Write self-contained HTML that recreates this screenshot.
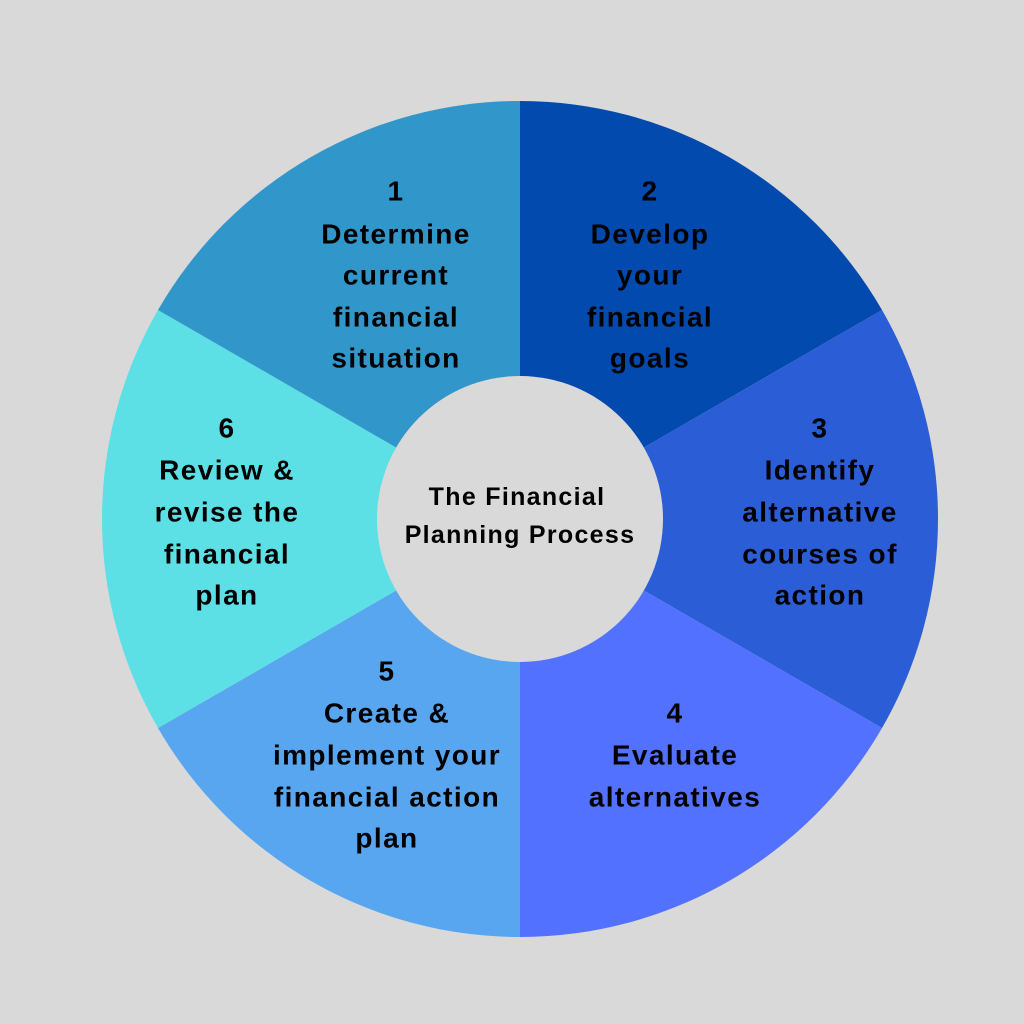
<!DOCTYPE html>
<html><head><style>html,body{margin:0;padding:0;background:#d9d9d9;}svg{display:block}</style></head>
<body>
<svg width="1024" height="1024" viewBox="0 0 1024 1024" xmlns="http://www.w3.org/2000/svg">
<rect width="1024" height="1024" fill="#d9d9d9"/>
<g>
<path d="M520 519 L520 101 A418 418 0 0 1 882 310 Z" fill="#024aad"/>
<path d="M520 519 L882 310 A418 418 0 0 1 882 728 Z" fill="#2b5ed6"/>
<path d="M520 519 L882 728 A418 418 0 0 1 520 937 Z" fill="#5271ff"/>
<path d="M520 519 L520 937 A418 418 0 0 1 158 728 Z" fill="#57a6ef"/>
<path d="M520 519 L158 728 A418 418 0 0 1 158 310 Z" fill="#5ce0e6"/>
<path d="M520 519 L158 310 A418 418 0 0 1 520 101 Z" fill="#3196c9"/>
</g>
<circle cx="520" cy="519" r="143" fill="#d9d9d9"/>
<g font-family="Liberation Sans, sans-serif" font-weight="bold" font-size="28" letter-spacing="1.4" fill="#000" text-anchor="middle" dominant-baseline="central">
<text x="396" y="191">1</text>
<text x="396" y="234">Determine</text>
<text x="396" y="275">current</text>
<text x="396" y="317">financial</text>
<text x="396" y="358">situation</text>

<text x="650" y="191">2</text>
<text x="650" y="234">Develop</text>
<text x="650" y="275">your</text>
<text x="650" y="317">financial</text>
<text x="650" y="358">goals</text>

<text x="820" y="428">3</text>
<text x="820" y="470">Identify</text>
<text x="820" y="512">alternative</text>
<text x="820" y="554">courses of</text>
<text x="820" y="595">action</text>

<text x="675" y="713">4</text>
<text x="675" y="755">Evaluate</text>
<text x="675" y="797">alternatives</text>

<text x="387" y="671">5</text>
<text x="387" y="713">Create &amp;</text>
<text x="387" y="755">implement your</text>
<text x="387" y="797">financial action</text>
<text x="387" y="838">plan</text>

<text x="227" y="428">6</text>
<text x="227" y="470">Review &amp;</text>
<text x="227" y="512">revise the</text>
<text x="227" y="554">financial</text>
<text x="227" y="595">plan</text>

<text x="517" y="497" font-size="25" letter-spacing="1.3">The Financial</text>
<text x="520" y="535" font-size="25" letter-spacing="1.3">Planning Process</text>
</g>
</svg>
</body></html>
